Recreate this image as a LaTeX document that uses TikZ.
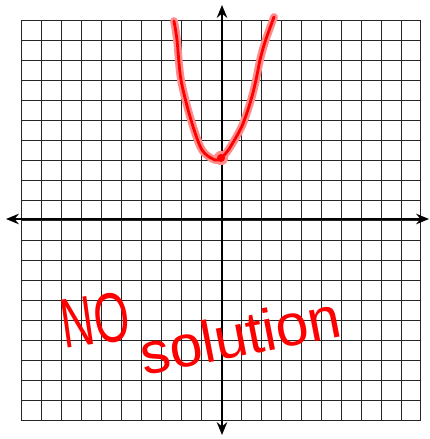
\documentclass[tikz,border=0pt]{standalone}
\usepackage{fontspec}
\setmainfont{Liberation Sans}
\usepackage{tikz}
\usetikzlibrary{arrows.meta,positioning}
\definecolor{Ink}{HTML}{FF0000}
\definecolor{Halo}{HTML}{FF8C8C}
\definecolor{GridInk}{HTML}{262626}

\begin{document}
\begin{tikzpicture}[
  x=0.5cm,y=0.5cm,
  gridline/.style={draw=GridInk,line width=0.7pt,step=0.5cm},
  axis/.style={-{Stealth[length=3.2mm,width=2.6mm]},line width=2.1pt,draw=black},
  halopen/.style={draw=Halo,line width=5.5pt,line cap=round,line join=round},
  inkpen/.style={draw=Ink,line width=2pt,line cap=round,line join=round},
  scrawl/.style={text=Ink,inner sep=0pt,font=\fontsize{42}{42}\selectfont}
]
\useasboundingbox (-11.05,-10.95) rectangle (10.45,11);
\draw[gridline] (-10,-10) grid (10,10);
\coordinate (xl) at (-10.75,0.05);
\coordinate (xr) at (10.4,0.05);
\coordinate (yb) at (0.05,-10.75);
\coordinate (yt) at (0.05,10.75);
\draw[axis] (0.05,0.05) -- (xl);
\draw[axis] (0.05,0.05) -- (xr);
\draw[axis] (0.05,0.05) -- (yb);
\draw[axis] (0.05,0.05) -- (yt);
\coordinate (vertex) at (0,3.1);
\draw[halopen] plot[smooth] coordinates {(-2.35,9.95) (-2.2,9) (-2.0,7) (-1.5,5) (-0.95,3.5) (-0.3,3.0) (vertex) (0.4,3.55) (1.05,4.7) (1.5,6) (1.75,7) (1.95,8) (2.2,8.9) (2.65,10.15)};
\fill[Halo] (vertex) circle (0.36);
\draw[inkpen] plot[smooth] coordinates {(-2.35,9.95) (-2.2,9) (-2.0,7) (-1.5,5) (-0.95,3.5) (-0.3,3.0) (vertex) (0.4,3.55) (1.05,4.7) (1.5,6) (1.75,7) (1.95,8) (2.2,8.9) (2.65,10.15)};
\fill[Ink] (vertex) circle (0.2);
\node[scrawl,rotate=8] (no) at (-6.3,-5) {\scalebox{0.65}[1]{\fontsize{50}{50}\selectfont NO}};
\node[scrawl,rotate=11] (sol) at (0.95,-5.75) {solution};
\end{tikzpicture}
\end{document}
